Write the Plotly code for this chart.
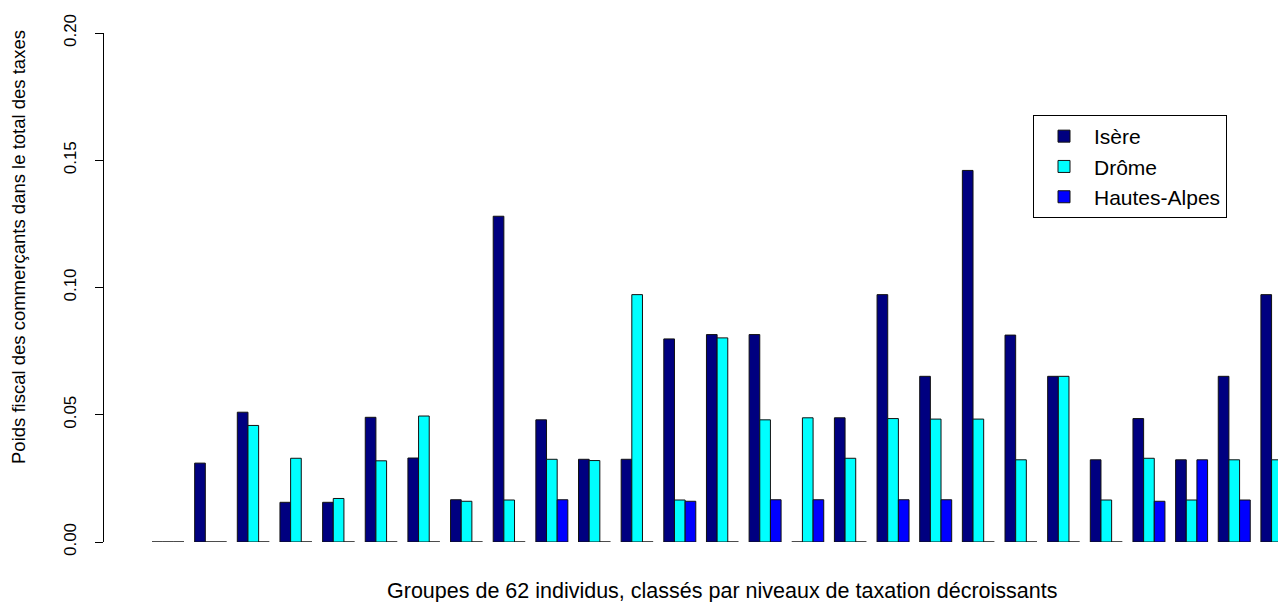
import plotly.graph_objects as go

groups = list(range(1, 28))
isere = [0.0, 0.031, 0.051, 0.0156, 0.0156, 0.049, 0.033, 0.0166, 0.128, 0.048,
         0.0325, 0.0325, 0.0798, 0.0815, 0.0815, 0.0, 0.0488, 0.0972, 0.0651, 0.146,
         0.0813, 0.0651, 0.0323, 0.0485, 0.0323, 0.0651, 0.0972]
drome = [0.0, 0.0, 0.0458, 0.0329, 0.0171, 0.0319, 0.0495, 0.016, 0.0165, 0.0325,
         0.032, 0.0972, 0.0165, 0.0802, 0.048, 0.0488, 0.0329, 0.0485, 0.0483, 0.0483,
         0.0323, 0.0651, 0.0165, 0.0329, 0.0165, 0.0323, 0.0323]
hautes_alpes = [0.0, 0.0, 0.0, 0.0, 0.0, 0.0, 0.0, 0.0, 0.0, 0.0166,
                0.0, 0.0, 0.016, 0.0, 0.0166, 0.0166, 0.0, 0.0166, 0.0166, 0.0,
                0.0, 0.0, 0.0, 0.016, 0.0323, 0.0165, 0.016]
series_names = ["Isère", "Drôme", "Hautes-Alpes"]
series_colors = ["#000080", "#00FFFF", "#0000FF"]
y_ticks = [0.0, 0.05, 0.10, 0.15, 0.20]

FONT = "Liberation Sans, Arial, sans-serif"
OFF = 8  # page body margin
W, H = 1286 - OFF, 602 - OFF
L, T = 104 - OFF, 33 - OFF
R = 0
B = H - (542 - OFF)
plot_w = W - L - R
plot_h = H - T - B
pitch = 42.65
r0 = 1 - (168 - 104) / pitch
r1 = r0 + plot_w / pitch


def px_x(p):
    return (p - 104) / plot_w


def px_y(p):
    return (542 - p) / plot_h


fig = go.Figure()
for name, vals, col in zip(series_names, [isere, drome, hautes_alpes], series_colors):
    fig.add_trace(go.Bar(
        x=groups, y=vals, name=name,
        marker=dict(color=col, line=dict(color="#111111", width=1)),
    ))

fig.update_layout(
    width=W, height=H,
    margin=dict(l=L, r=R, t=T, b=B, pad=0),
    paper_bgcolor="white", plot_bgcolor="white",
    barmode="group", bargap=0.25, bargroupgap=0.0,
    font=dict(family=FONT, color="black"),
    showlegend=True,
    legend=dict(
        x=px_x(1033), y=px_y(115),
        xanchor="left", yanchor="top",
        bordercolor="black", borderwidth=1, bgcolor="white",
        font=dict(size=21, family=FONT, color="black"),
        itemwidth=50, tracegroupgap=0,
    ),
    xaxis=dict(range=[r0, r1], visible=False, fixedrange=True),
    yaxis=dict(
        range=[0, 0.2], tickvals=y_ticks, tickformat=".2f",
        showline=True, linecolor="black", linewidth=1,
        ticks="outside", ticklen=8, tickcolor="black", tickwidth=1,
        tickangle=-90, showgrid=False, zeroline=False,
        tickfont=dict(size=17, family=FONT, color="black"),
        ticklabelstandoff=12,
    ),
    annotations=[
        dict(text="Groupes de 62 individus, classés par niveaux de taxation décroissants",
             x=px_x(722), y=px_y(591), xref="paper", yref="paper",
             xanchor="center", yanchor="middle", showarrow=False,
             font=dict(size=21.5, family=FONT, color="black")),
        dict(text="Poids fiscal des commerçants dans le total des taxes",
             x=px_x(18), y=px_y(247), xref="paper", yref="paper",
             xanchor="center", yanchor="middle", textangle=-90, showarrow=False,
             font=dict(size=18.5, family=FONT, color="black")),
    ],
)

fig.write_html("out.html")
